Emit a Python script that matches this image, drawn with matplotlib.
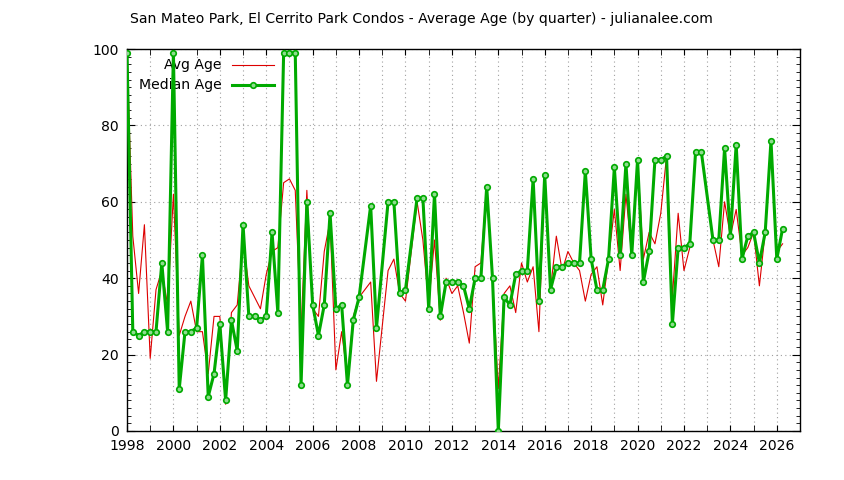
import numpy as np
import matplotlib
matplotlib.use("Agg")
import matplotlib.pyplot as plt
from matplotlib.lines import Line2D
from matplotlib.ticker import MultipleLocator

# Quarter start (decimal year) for each observation
quarters = [
    1998.00, 1998.25, 1998.50, 1998.75, 1999.00, 1999.25, 1999.50, 1999.75,
    2000.00, 2000.25, 2000.50, 2000.75, 2001.00, 2001.25, 2001.50, 2001.75,
    2002.00, 2002.25, 2002.50, 2002.75, 2003.00, 2003.25, 2003.50, 2003.75,
    2004.00, 2004.25, 2004.50, 2004.75, 2005.00, 2005.25, 2005.50, 2005.75,
    2006.00, 2006.25, 2006.50, 2006.75, 2007.00, 2007.25, 2007.50, 2007.75,
    2008.00, 2008.50, 2008.75, 2009.25, 2009.50, 2009.75,
    2010.00, 2010.50, 2010.75, 2011.00, 2011.25, 2011.50, 2011.75,
    2012.00, 2012.25, 2012.50, 2012.75, 2013.00, 2013.25, 2013.50, 2013.75,
    2014.00, 2014.25, 2014.50, 2014.75, 2015.00, 2015.25, 2015.50, 2015.75,
    2016.00, 2016.25, 2016.50, 2016.75, 2017.00, 2017.25, 2017.50, 2017.75,
    2018.00, 2018.25, 2018.50, 2018.75, 2019.00, 2019.25, 2019.50, 2019.75,
    2020.00, 2020.25, 2020.50, 2020.75, 2021.00, 2021.25, 2021.50, 2021.75,
    2022.00, 2022.25, 2022.50, 2022.75, 2023.25, 2023.50, 2023.75,
    2024.00, 2024.25, 2024.50, 2024.75, 2025.00, 2025.25, 2025.50, 2025.75,
    2026.00, 2026.25,
]

avg_age = [
    99, 51, 36, 54, 19, 37, 42, 33,
    62, 25, 30, 34, 26, 26, 15, 30,
    30, 7, 31, 33, 50, 38, 35, 32,
    41, 47, 48, 65, 66, 63, 26, 63,
    32, 30, 47, 55, 16, 26, 14, 30,
    35, 39, 13, 42, 45, 36,
    34, 60, 50, 33, 50, 29, 40,
    36, 38, 31, 23, 43, 44, 64, 40,
    11, 36, 38, 31, 44, 39, 43, 26,
    67, 37, 51, 42, 47, 44, 42, 34,
    41, 43, 33, 45, 58, 42, 62, 46,
    71, 45, 52, 49, 57, 72, 35, 57,
    42, 48, 73, 73, 50, 43, 60,
    51, 58, 46, 48, 52, 38, 52, 76,
    47, 49,
]

median_age = [
    99, 26, 25, 26, 26, 26, 44, 26,
    99, 11, 26, 26, 27, 46, 9, 15,
    28, 8, 29, 21, 54, 30, 30, 29,
    30, 52, 31, 99, 99, 99, 12, 60,
    33, 25, 33, 57, 32, 33, 12, 29,
    35, 59, 27, 60, 60, 36,
    37, 61, 61, 32, 62, 30, 39,
    39, 39, 38, 32, 40, 40, 64, 40,
    0, 35, 33, 41, 42, 42, 66, 34,
    67, 37, 43, 43, 44, 44, 44, 68,
    45, 37, 37, 45, 69, 46, 70, 46,
    71, 39, 47, 71, 71, 72, 28, 48,
    48, 49, 73, 73, 50, 50, 74,
    51, 75, 45, 51, 52, 44, 52, 76,
    45, 53,
]

year_ticks = list(range(1998, 2027, 2))
y_ticks = [0, 20, 40, 60, 80, 100]

title = "San Mateo Park, El Cerrito Park Condos - Average Age (by quarter) - julianalee.com"

RED = "#dd0000"
GREEN = "#00aa00"
FS = 10.1

plt.rcParams['font.family'] = ['DejaVu Sans']
fig = plt.figure(figsize=(8.44, 4.8), dpi=100)
ax = fig.add_axes([127 / 844, 49 / 480, 673 / 844, 382 / 480])

x = np.array(quarters)
ax.plot(x, avg_age, color=RED, lw=0.8, zorder=3)
ax.plot(x, median_age, color=GREEN, lw=2.2, marker='o', ms=4.0,
        mfc='#8fdc8f', mec=GREEN, mew=1.2, zorder=4)

ax.set_xlim(1998, 2027)
ax.set_ylim(0, 100)
ax.set_xticks(year_ticks)
ax.set_xticklabels([str(y) for y in year_ticks])
ax.xaxis.set_minor_locator(MultipleLocator(1))
ax.set_yticks(y_ticks)
ax.yaxis.set_minor_locator(MultipleLocator(2))

ax.tick_params(axis='both', which='both', direction='in', top=True, right=True,
               labelsize=FS, colors='black', pad=6)
ax.tick_params(axis='x', which='major', length=4)
ax.tick_params(axis='x', which='minor', length=4)
ax.tick_params(axis='y', which='major', length=6)
ax.tick_params(axis='y', which='minor', length=3)

grid_kw = dict(color='#a0a0a0', lw=0.8, linestyle=(0, (1, 3)))
ax.grid(True, axis='x', which='both', **grid_kw)
ax.grid(True, axis='y', which='major', **grid_kw)
ax.set_axisbelow(True)
for s in ax.spines.values():
    s.set_linewidth(1.0)
    s.set_color('black')

# Legend (gnuplot style, top-left inside, no box)
def fx(px):
    return (px - 127) / 673

def fy(py):
    return (431 - py) / 382

ax.text(fx(222), fy(65), "Avg Age", transform=ax.transAxes, ha='right',
        va='center', fontsize=FS)
ax.text(fx(222), fy(85), "Median Age", transform=ax.transAxes, ha='right',
        va='center', fontsize=FS)
ax.add_line(Line2D([fx(232), fx(274)], [fy(65), fy(65)], transform=ax.transAxes,
                   color=RED, lw=0.8, zorder=5))
ax.add_line(Line2D([fx(232), fx(274)], [fy(85), fy(85)], transform=ax.transAxes,
                   color=GREEN, lw=2.2, zorder=5))
ax.add_line(Line2D([fx(253)], [fy(85)], transform=ax.transAxes, color=GREEN,
                   marker='o', ms=4.0, mfc='#8fdc8f', mec=GREEN, mew=1.2, zorder=6))

fig.text(421 / 844, 1 - 19 / 480, title, ha='center', va='center', fontsize=FS)

fig.savefig("out.png", dpi=100)
